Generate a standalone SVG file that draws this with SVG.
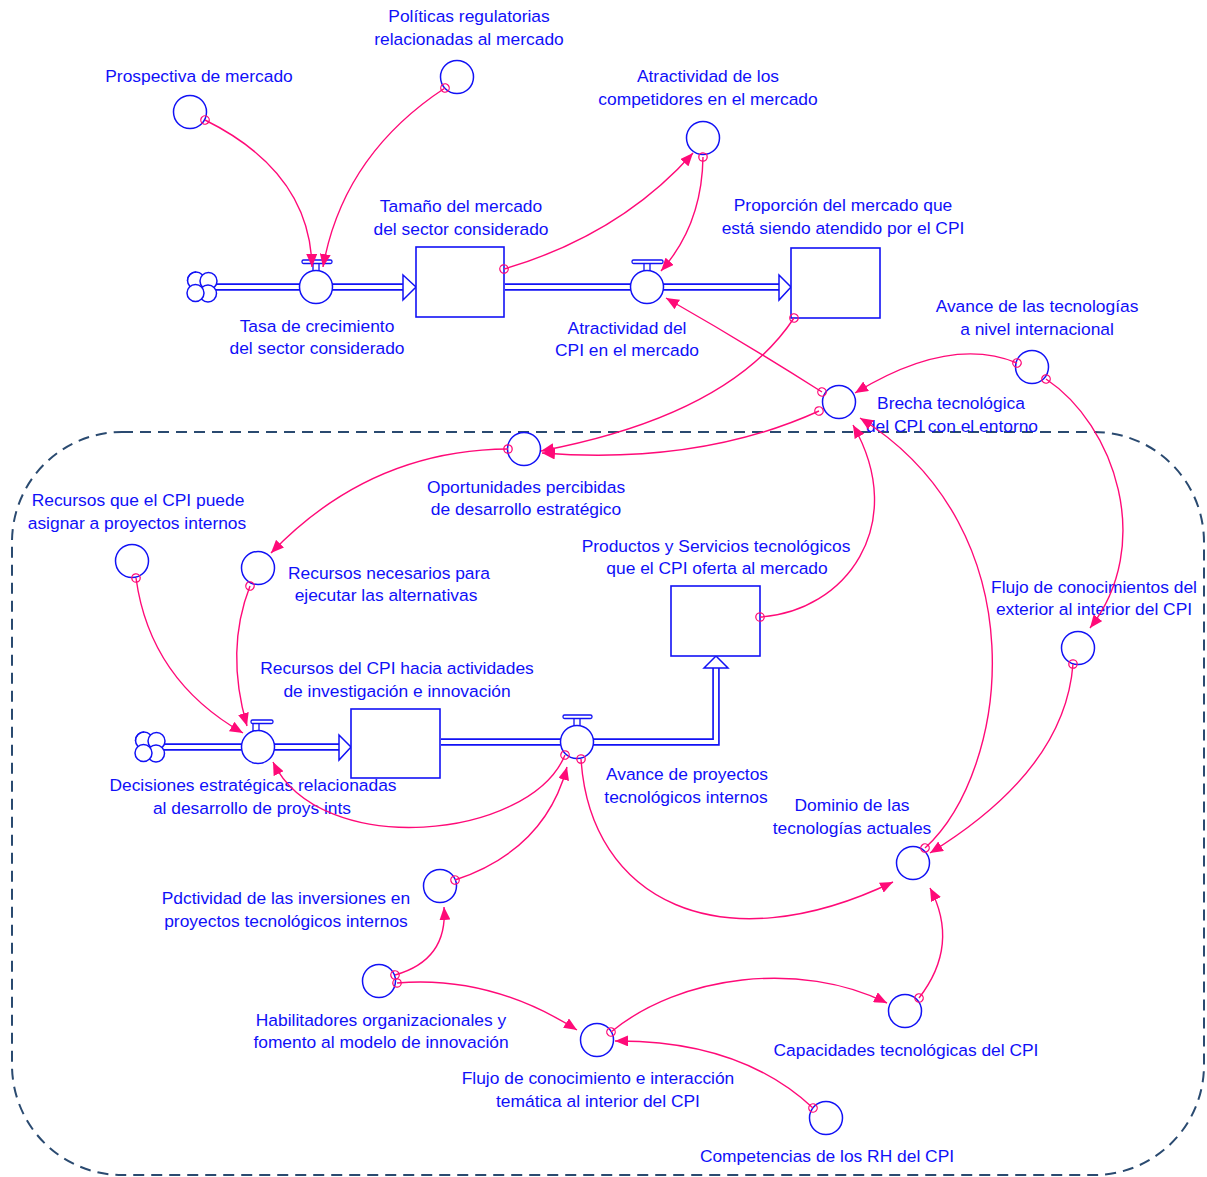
<svg xmlns="http://www.w3.org/2000/svg" width="1207" height="1177" viewBox="0 0 1207 1177">
<style>
  text { font-family: "Liberation Sans", Arial, sans-serif; font-size: 17.4px; fill: #1010f8; text-anchor: middle; }
  .aux { fill: #ffffff; stroke: #1212f5; stroke-width: 1.5; }
  .stock { fill: #ffffff; stroke: #1212f5; stroke-width: 1.6; }
  .pipeo { fill: none; stroke: #1212f5; stroke-width: 7.5; }
  .pipei { fill: none; stroke: #ffffff; stroke-width: 4.2; }
  .ahead { fill: #ffffff; stroke: #1212f5; stroke-width: 1.5; }
  .valvebar { fill: #ffffff; stroke: #1212f5; stroke-width: 1.3; }
  .link { fill: none; stroke: #ff0a78; stroke-width: 1.4; marker-start: url(#dot); marker-end: url(#arr); }
  .boundary { fill: none; stroke: #2a4a70; stroke-width: 2; stroke-dasharray: 11 7; }
</style>
<defs>
  <marker id="arr" markerUnits="userSpaceOnUse" markerWidth="13" markerHeight="11" refX="13" refY="5.5" orient="auto">
    <path d="M0,0 L13,5.5 L0,11 Z" fill="#ff0a78"/>
  </marker>
  <marker id="dot" markerUnits="userSpaceOnUse" markerWidth="11" markerHeight="11" refX="5.5" refY="5.5" orient="auto">
    <circle cx="5.5" cy="5.5" r="4.2" fill="none" stroke="#ff0a78" stroke-width="1.3"/>
  </marker>
  <g id="cloud">
    <circle cx="-6" cy="-6.5" r="8.5" class="aux"/>
    <circle cx="6.5" cy="-6" r="8.5" class="aux"/>
    <circle cx="6" cy="6.5" r="8.5" class="aux"/>
    <circle cx="-6.5" cy="6" r="8.5" class="aux"/>
    <path d="M-6,-15 A8.5,8.5 0 0 0 -14.5,-6.5" fill="none" stroke="#1212f5" stroke-width="1.5"/>
  </g>
</defs>

<rect x="0" y="0" width="1207" height="1177" fill="#ffffff"/>

<!-- boundary -->
<rect id="boundary" class="boundary" x="12" y="432" width="1192" height="743" rx="110" ry="110"/>

<!-- flows (pipes) -->
<g id="flows">
  <path class="pipeo" d="M216,287 H404"/>
  <path class="pipei" d="M214,287 H405"/>
  <polygon class="ahead" points="403,275 416,287 403,300"/>
  <path class="pipeo" d="M505,287 H780"/>
  <path class="pipei" d="M503,287 H781"/>
  <polygon class="ahead" points="779,275 791,287 779,300"/>
  <path class="pipeo" d="M164,747 H340"/>
  <path class="pipei" d="M162,747 H341"/>
  <polygon class="ahead" points="339,735 351,747 339,760"/>
  <path class="pipeo" d="M441,742 H716 V667"/>
  <path class="pipei" d="M439,742 H716 V666"/>
  <polygon class="ahead" points="704,668 716,656 728,668"/>
</g>

<!-- clouds -->
<g id="cloud1"><use href="#cloud" x="202" y="287"/></g>
<g id="cloud2"><use href="#cloud" x="150" y="747"/></g>

<!-- stocks -->
<g id="stock-tamano">
  <rect class="stock" x="416" y="247" width="88" height="70"/>
  <text x="461" y="212">Tamaño del mercado</text>
  <text x="461" y="235">del sector considerado</text>
</g>
<g id="stock-proporcion">
  <rect class="stock" x="791" y="248" width="89" height="70"/>
  <text x="843" y="211">Proporción del mercado que</text>
  <text x="843" y="234">está siendo atendido por el CPI</text>
</g>
<g id="stock-productos">
  <rect class="stock" x="671" y="586" width="89" height="70"/>
  <text x="716" y="552">Productos y Servicios tecnológicos</text>
  <text x="717" y="574">que el CPI oferta al mercado</text>
</g>
<g id="stock-recursos">
  <rect class="stock" x="351" y="709" width="89" height="69"/>
  <text x="397" y="674">Recursos del CPI hacia actividades</text>
  <text x="397" y="697">de investigación e innovación</text>
</g>

<!-- valves -->
<g id="valve-tasa">
  <rect class="valvebar" x="313" y="263" width="6" height="8"/>
  <rect class="valvebar" x="302" y="260" width="30" height="3.5" rx="1.5"/>
  <circle class="aux" cx="316" cy="287" r="16.5"/>
  <text x="317" y="332">Tasa de crecimiento</text>
  <text x="317" y="354">del sector considerado</text>
</g>
<g id="valve-atractividad">
  <rect class="valvebar" x="644" y="263" width="6" height="8"/>
  <rect class="valvebar" x="632" y="260" width="31" height="3.5" rx="1.5"/>
  <circle class="aux" cx="647" cy="287" r="16.5"/>
  <text x="627" y="334">Atractividad del</text>
  <text x="627" y="356">CPI en el mercado</text>
</g>
<g id="valve-decisiones">
  <rect class="valvebar" x="253" y="723" width="6" height="8"/>
  <rect class="valvebar" x="251" y="720" width="22" height="3.5" rx="1.5"/>
  <circle class="aux" cx="258" cy="747" r="16.5"/>
  <text x="253" y="791">Decisiones estratégicas relacionadas</text>
  <text x="252" y="814">al desarrollo de proys ints</text>
</g>
<g id="valve-avance">
  <rect class="valvebar" x="574" y="718" width="6" height="8"/>
  <rect class="valvebar" x="563" y="715" width="29" height="3.5" rx="1.5"/>
  <circle class="aux" cx="577" cy="742" r="16.5"/>
  <text x="687" y="780">Avance de proyectos</text>
  <text x="686" y="803">tecnológicos internos</text>
</g>

<!-- auxiliaries -->
<g id="aux-prospectiva">
  <circle class="aux" cx="190" cy="112" r="16.5"/>
  <text x="199" y="82">Prospectiva de mercado</text>
</g>
<g id="aux-politicas">
  <circle class="aux" cx="457" cy="77" r="16.5"/>
  <text x="469" y="22">Políticas regulatorias</text>
  <text x="469" y="45">relacionadas al mercado</text>
</g>
<g id="aux-competidores">
  <circle class="aux" cx="703" cy="138" r="16.5"/>
  <text x="708" y="82">Atractividad de los</text>
  <text x="708" y="105">competidores en el mercado</text>
</g>
<g id="aux-avance-tec">
  <circle class="aux" cx="1032" cy="367" r="16.5"/>
  <text x="1037" y="312">Avance de las tecnologías</text>
  <text x="1037" y="335">a nivel internacional</text>
</g>
<g id="aux-brecha">
  <circle class="aux" cx="839" cy="402" r="16.5"/>
  <text x="951" y="409">Brecha tecnológica</text>
  <text x="952" y="432">del CPI con el entorno</text>
</g>
<g id="aux-oportunidades">
  <circle class="aux" cx="524" cy="449" r="16.5"/>
  <text x="526" y="493">Oportunidades percibidas</text>
  <text x="526" y="515">de desarrollo estratégico</text>
</g>
<g id="aux-recursos-que">
  <circle class="aux" cx="132" cy="561" r="16.5"/>
  <text x="138" y="506">Recursos que el CPI puede</text>
  <text x="137" y="529">asignar a proyectos internos</text>
</g>
<g id="aux-recursos-nec">
  <circle class="aux" cx="258" cy="568" r="16.5"/>
  <text x="389" y="579">Recursos necesarios para</text>
  <text x="386" y="601">ejecutar las alternativas</text>
</g>
<g id="aux-flujo-ext">
  <circle class="aux" cx="1078" cy="648" r="16.5"/>
  <text x="1094" y="593">Flujo de conocimientos del</text>
  <text x="1094" y="615">exterior al interior del CPI</text>
</g>
<g id="aux-dominio">
  <circle class="aux" cx="913" cy="863" r="16.5"/>
  <text x="852" y="811">Dominio de las</text>
  <text x="852" y="834">tecnologías actuales</text>
</g>
<g id="aux-pdctividad">
  <circle class="aux" cx="440" cy="886" r="16.5"/>
  <text x="286" y="904">Pdctividad de las inversiones en</text>
  <text x="286" y="927">proyectos tecnológicos internos</text>
</g>
<g id="aux-habilitadores">
  <circle class="aux" cx="379" cy="981" r="16.5"/>
  <text x="381" y="1026">Habilitadores organizacionales y</text>
  <text x="381" y="1048">fomento al modelo de innovación</text>
</g>
<g id="aux-flujo-int">
  <circle class="aux" cx="597" cy="1040" r="16.5"/>
  <text x="598" y="1084">Flujo de conocimiento e interacción</text>
  <text x="598" y="1107">temática al interior del CPI</text>
</g>
<g id="aux-capacidades">
  <circle class="aux" cx="905" cy="1011" r="16.5"/>
  <text x="906" y="1056">Capacidades tecnológicas del CPI</text>
</g>
<g id="aux-competencias">
  <circle class="aux" cx="826" cy="1118" r="16.5"/>
  <text x="827" y="1162">Competencias de los RH del CPI</text>
</g>

<!-- connectors -->
<g id="connectors">
  <path class="link" d="M205,120 Q310,172 312,267"/>
  <path class="link" d="M445,88 Q343,155 323,267"/>
  <path class="link" d="M504,269 Q620,235 693,153"/>
  <path class="link" d="M703,157 Q702,225 661,271"/>
  <path class="link" d="M822,392 Q745,343 666,298"/>
  <path class="link" d="M794,318 Q730,415 541,451"/>
  <path class="link" d="M819,411 Q700,465 542,453"/>
  <path class="link" d="M1017,363 Q950,335 855,393"/>
  <path class="link" d="M1046,379 C1115,425 1155,545 1090,628"/>
  <path class="link" d="M760,617 C845,612 910,525 853,425"/>
  <path class="link" d="M925,848 C1010,770 1040,530 860,418"/>
  <path class="link" d="M1073,664 Q1065,770 930,853"/>
  <path class="link" d="M508,449 Q370,450 271,553"/>
  <path class="link" d="M136,578 Q150,680 243,733"/>
  <path class="link" d="M250,586 Q225,650 247,726"/>
  <path class="link" d="M565,755 C530,840 320,860 273,762"/>
  <path class="link" d="M455,880 Q545,850 567,767"/>
  <path class="link" d="M581,759 C590,900 720,965 893,882"/>
  <path class="link" d="M395,975 Q448,960 444,907"/>
  <path class="link" d="M397,983 Q490,975 577,1030"/>
  <path class="link" d="M611,1032 C680,975 800,960 887,1003"/>
  <path class="link" d="M919,998 Q960,945 930,888"/>
  <path class="link" d="M813,1108 Q740,1040 615,1041"/>
</g>
</svg>
